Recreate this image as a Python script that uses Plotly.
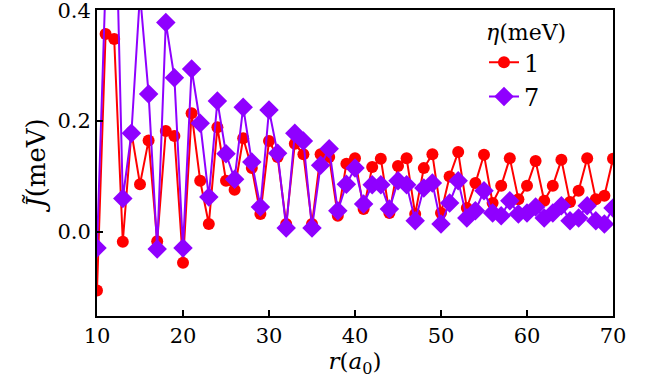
# Acoplamiento efectivo J(r) para dos valores de eta
import plotly.graph_objects as go

r = list(range(10, 71))

# eta = 1 meV
j_eta1 = [-0.106, 0.357, 0.348, -0.018, 0.180, 0.086, 0.165, -0.017, 0.182, 0.173,
          -0.056, 0.214, 0.092, 0.014, 0.189, 0.092, 0.076, 0.169, 0.115, 0.032,
          0.164, 0.135, 0.014, 0.159, 0.140, 0.014, 0.140, 0.135, 0.029, 0.123,
          0.133, 0.041, 0.117, 0.132, 0.034, 0.119, 0.133, 0.032, 0.115, 0.140,
          0.034, 0.100, 0.144, 0.043, 0.088, 0.139, 0.052, 0.083, 0.133, 0.059,
          0.083, 0.128, 0.056, 0.083, 0.130, 0.054, 0.074, 0.133, 0.059, 0.065,
          0.132]

# eta = 7 meV
j_eta7 = [-0.029, 0.450, 0.700, 0.060, 0.178, 0.430, 0.249, -0.031, 0.378, 0.278,
          -0.029, 0.294, 0.196, 0.063, 0.236, 0.141, 0.095, 0.225, 0.126, 0.045,
          0.220, 0.142, 0.007, 0.178, 0.164, 0.007, 0.120, 0.150, 0.038, 0.086,
          0.115, 0.050, 0.085, 0.085, 0.041, 0.092, 0.085, 0.020, 0.079, 0.088,
          0.014, 0.052, 0.092, 0.025, 0.038, 0.074, 0.034, 0.029, 0.056, 0.032,
          0.034, 0.045, 0.025, 0.034, 0.047, 0.020, 0.025, 0.047, 0.020, 0.014,
          0.043]

series = [("1", j_eta1, "#ff0000", "circle", 12),
          ("7", j_eta7, "#8f00ff", "diamond", 15)]

FUENTE = "DejaVu Serif"

fig = go.Figure()

for nombre, valores, color, simbolo, tam in series:
    fig.add_trace(go.Scatter(
        x=r,
        y=valores,
        mode="lines+markers",
        name=nombre,
        line=dict(color=color, width=2),
        marker=dict(color=color, symbol=simbolo, size=tam, line=dict(width=0))
    ))

fig.update_layout(
    width=654,
    height=379,
    margin=dict(l=97, r=41, t=10, b=63, autoexpand=False),
    paper_bgcolor="white",
    plot_bgcolor="white",
    font=dict(family=FUENTE, size=21, color="black"),
    showlegend=True,
    legend=dict(
        title=dict(text="<i>η</i>(meV)", font=dict(size=22)),
        x=0.75, y=0.995, xanchor="left", yanchor="top",
        bgcolor="rgba(0,0,0,0)",
        font=dict(size=24),
        itemwidth=30,
        tracegroupgap=0
    )
)

fig.update_xaxes(
    range=[10, 70],
    tickvals=[10, 20, 30, 40, 50, 60, 70],
    ticks="inside", ticklen=6, tickwidth=2, tickcolor="black",
    showline=True, linewidth=2, linecolor="black", mirror=True,
    showgrid=False, zeroline=False,
    tickfont=dict(size=21),
    title=dict(text="<i>r</i>(<i>a</i><sub>0</sub>)", font=dict(size=23), standoff=0)
)

fig.update_yaxes(
    range=[-0.152, 0.4005],
    tickvals=[0.0, 0.2, 0.4],
    tickformat=".1f",
    ticks="inside", ticklen=6, tickwidth=2, tickcolor="black",
    ticklabeloverflow="allow",
    showline=True, linewidth=2, linecolor="black", mirror=True,
    showgrid=False, zeroline=False,
    tickfont=dict(size=21),
    title=dict(text="<i>J̃</i>(meV)", font=dict(size=26), standoff=4)
)

# Sin margen del body para que la figura ocupe la ventana completa
fig.write_html("out.html", config={"displayModeBar": False},
               post_script="document.body.style.margin='0';")
